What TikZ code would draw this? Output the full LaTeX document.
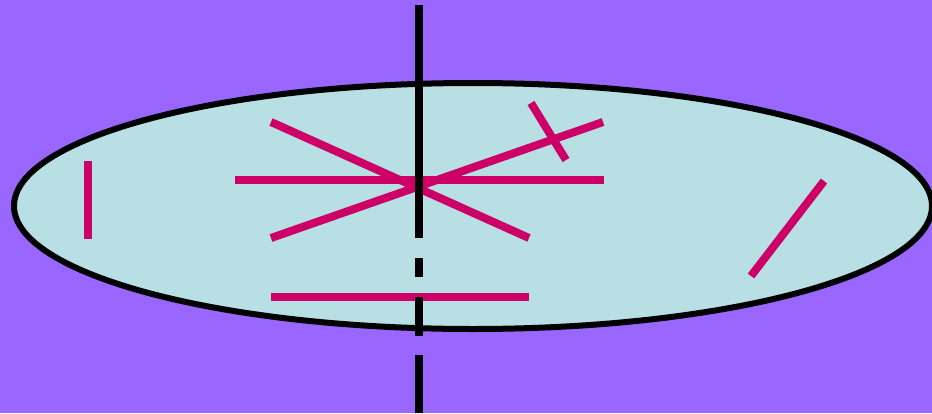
\documentclass[tikz,border=0pt]{standalone}
\definecolor{bgpurple}{HTML}{9966FF}
\definecolor{diskfill}{HTML}{B8DFE3}
\definecolor{magline}{HTML}{CC0066}
\begin{document}
\begin{tikzpicture}[x=1pt,y=-1pt,
  disk/.style={draw=black,line width=6pt,fill=diskfill},
  axisline/.style={draw=black,line width=8pt},
  stick/.style={draw=magline,line width=8pt}]
\fill[bgpurple] (0,0) rectangle (932,413);
\useasboundingbox (0,0) rectangle (932,413);
\draw[disk] (473,206) ellipse [x radius=459, y radius=123];
% magenta sticks
\draw[stick] (88,161) -- (88,239);
\draw[stick] (235,180) -- (604,180);
\draw[stick] (271,122) -- (529,238);
\draw[stick] (271,238) -- (603,122);
\draw[stick] (531,103) -- (566,160);
\draw[stick] (271,296.5) -- (529,296.5);
\draw[stick] (751,276) -- (824,181);
% axis
\draw[axisline] (419,5) -- (419,238);
\draw[axisline] (419,258) -- (419,277);
\draw[axisline] (419,297) -- (419,336);
\draw[axisline] (419,355) -- (419,413);
\end{tikzpicture}
\end{document}
